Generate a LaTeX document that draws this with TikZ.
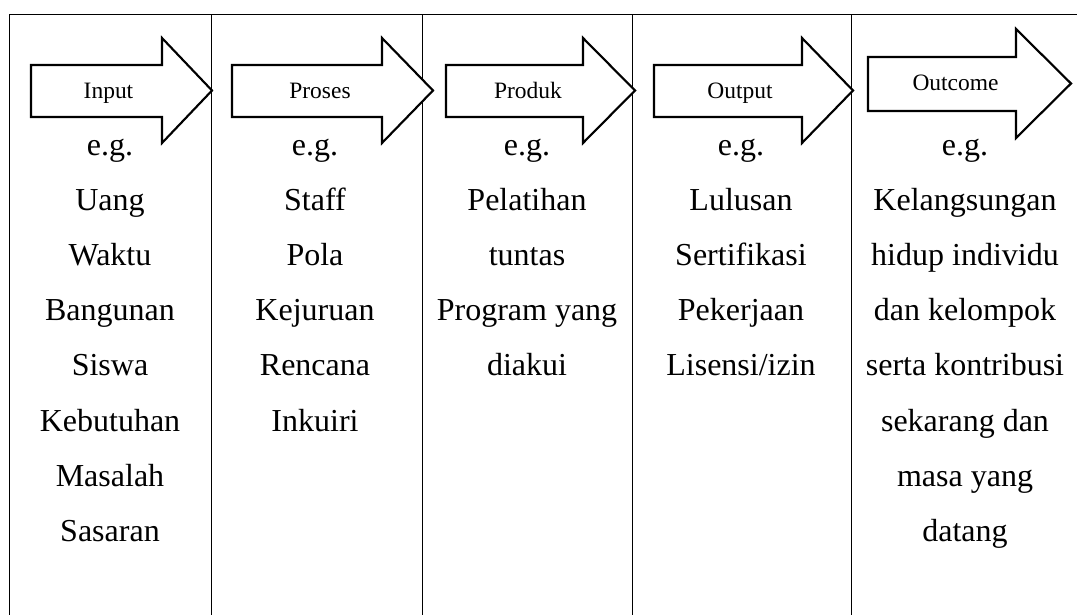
\documentclass[tikz,border=0pt]{standalone}
\usepackage{fontspec}
\setmainfont{Liberation Serif}
\tikzset{
  grid/.style={line width=0.75pt, black},
  arrowbox/.style={line width=1.6pt, black, fill=white, line join=miter},
  arrowlabel/.style={font=\fontsize{17.6}{20}\selectfont, anchor=base, inner sep=0pt},
  cell/.style={font=\fontsize{24}{28}\selectfont, anchor=base, inner sep=0pt},
}
\begin{document}
\begin{tikzpicture}[x=0.75pt, y=-0.75pt]
\path[use as bounding box] (0,0) rectangle (1077,614);
\clip (0,0) rectangle (1077,614);
% table lines
\draw[grid] (9,14) -- (1080,14);
\foreach \x in {9,211,422,632,851} \draw[grid] (\x,14) -- (\x,620);
% arrows: left, head base, tip, shaft top, shaft bottom, head top, head bottom, label x, label baseline, text
\foreach \l/\hb/\tp/\st/\sb/\ht/\hbt/\lx/\ly/\txt/\nm in {
  31/162/212/65/117/38/143/108.5/98/Input/a1,
  232/382/433/65/117/38/143/320/98/Proses/a2,
  446/583/635/65/117/38/143/528/98/Produk/a3,
  654/802/853/65/117/38/143/740/98/Output/a4,
  868/1016/1071/57/111/29/138/955.5/90/Outcome/a5}{
  \draw[arrowbox] (\l,\st) -- (\hb,\st) -- (\hb,\ht) -- (\tp,{(\ht+\hbt)/2}) -- (\hb,\hbt) -- (\hb,\sb) -- (\l,\sb) -- cycle;
  \node[arrowlabel] (\nm) at (\lx,\ly) {\txt};
}
% column texts
\foreach \t [count=\i from 0] in {e.g., Uang, Waktu, Bangunan, Siswa, Kebutuhan, Masalah, Sasaran}
  \node[cell] (c1-\i) at (110,{155+55.2*\i}) {\t};
\foreach \t [count=\i from 0] in {e.g., Staff, Pola, Kejuruan, Rencana, Inkuiri}
  \node[cell] (c2-\i) at (315,{155+55.2*\i}) {\t};
\foreach \t [count=\i from 0] in {e.g., Pelatihan, tuntas, Program yang, diakui}
  \node[cell] (c3-\i) at (527,{155+55.2*\i}) {\t};
\foreach \t [count=\i from 0] in {e.g., Lulusan, Sertifikasi, Pekerjaan, Lisensi/izin}
  \node[cell] (c4-\i) at (741,{155+55.2*\i}) {\t};
\foreach \t [count=\i from 0] in {e.g., Kelangsungan, hidup individu, dan kelompok, serta kontribusi, sekarang dan, masa yang, datang}
  \node[cell] (c5-\i) at (965,{155+55.2*\i}) {\t};
\end{tikzpicture}
\end{document}
